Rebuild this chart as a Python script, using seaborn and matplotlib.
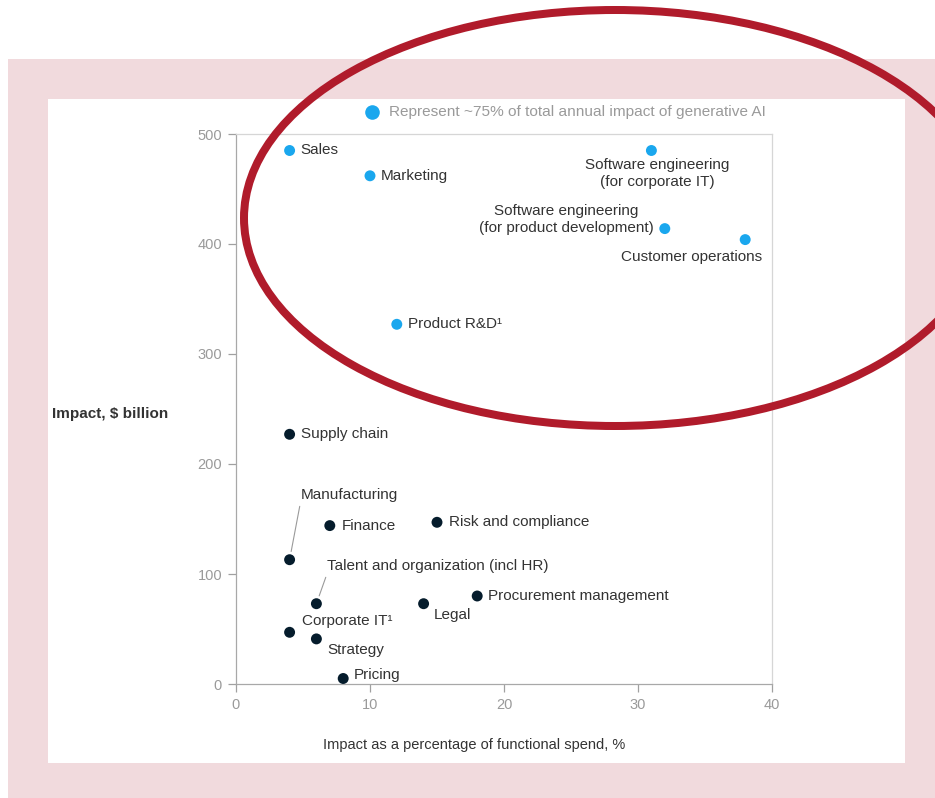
import matplotlib
matplotlib.use("Agg")
import matplotlib.pyplot as plt
import seaborn as sns
import pandas as pd
from matplotlib.patches import Rectangle, Ellipse
from matplotlib.lines import Line2D

# ---- data ----
functions = ["Sales", "Marketing", "Software engineering\n(for corporate IT)",
             "Software engineering\n(for product development)", "Customer operations",
             "Product R&D¹", "Supply chain", "Manufacturing", "Finance",
             "Risk and compliance", "Talent and organization (incl HR)", "Legal",
             "Procurement management", "Corporate IT¹", "Strategy", "Pricing"]
pct_spend = [4, 10, 31, 32, 38, 12, 4, 4, 7, 15, 6, 14, 18, 4, 6, 8]
impact_bn = [485, 462, 485, 414, 404, 327, 227, 113, 144, 147, 73, 73, 80, 47, 41, 5]
group = ["top"] * 6 + ["other"] * 10
x_ticks = [0, 10, 20, 30, 40]
y_ticks = [0, 100, 200, 300, 400, 500]
legend_text = "Represent ~75% of total annual impact of generative AI"

# label offsets in pixels (dx, dy up), alignment
label_style = {
    "Sales": (11, 0, "left", "center"),
    "Marketing": (11, 0, "left", "center"),
    "Software engineering\n(for corporate IT)": (6, -7, "center", "top"),
    "Software engineering\n(for product development)": (-11, 9, "right", "center"),
    "Customer operations": (17, -17, "right", "center"),
    "Product R&D¹": (11, 0, "left", "center"),
    "Supply chain": (11, 0, "left", "center"),
    "Manufacturing": (11, 65, "left", "center"),
    "Finance": (12, 0, "left", "center"),
    "Risk and compliance": (12, 0, "left", "center"),
    "Talent and organization (incl HR)": (11, 38, "left", "center"),
    "Legal": (10, -11, "left", "center"),
    "Procurement management": (11, 0, "left", "center"),
    "Corporate IT¹": (12, 11, "left", "center"),
    "Strategy": (11, -11, "left", "center"),
    "Pricing": (11, 4, "left", "center"),
}
leaders = {"Manufacturing", "Talent and organization (incl HR)"}

df = pd.DataFrame({"function": functions, "pct": pct_spend,
                   "impact": impact_bn, "group": group})

sns.set_theme(style="white")
plt.rcParams["font.family"] = ["Liberation Sans", "DejaVu Sans"]

W, H, DPI = 935, 798, 100
fig = plt.figure(figsize=(W / DPI, H / DPI), dpi=DPI)
fig.patch.set_facecolor("white")

def fx(px):
    return px / W

def fy(py):
    return 1 - py / H

PINK = "#F1DADD"
fig.add_artist(Rectangle((fx(8), fy(798)), fx(935) - fx(8), fy(59) - fy(798),
                         transform=fig.transFigure, facecolor=PINK, edgecolor="none", zorder=0))
fig.add_artist(Rectangle((fx(48), fy(763)), fx(905) - fx(48), fy(99) - fy(763),
                         transform=fig.transFigure, facecolor="white", edgecolor="none", zorder=0))

ax = fig.add_axes([fx(236), fy(684), fx(772) - fx(236), fy(134) - fy(684)])
ax.set_facecolor("none")

BLUE = "#1AA7EE"
NAVY = "#051C2C"
sns.scatterplot(data=df, x="pct", y="impact", hue="group",
                palette={"top": BLUE, "other": NAVY}, s=62, edgecolor="none",
                legend=False, ax=ax, zorder=3, clip_on=False)

ax.set_xlim(0, 40)
ax.set_ylim(0, 500)
ax.set_xticks(x_ticks)
ax.set_yticks(y_ticks)
ax.tick_params(axis="both", colors="#A0A0A0", labelcolor="#9A9A9A", labelsize=10.5,
               length=6, width=0.9, direction="out", bottom=True, left=True, pad=4)
for side in ["left", "bottom"]:
    ax.spines[side].set_color("#A8A8A8")
    ax.spines[side].set_linewidth(0.9)
for side in ["top", "right"]:
    ax.spines[side].set_color("#D6D6D6")
    ax.spines[side].set_linewidth(0.9)
ax.set_xlabel("")
ax.set_ylabel("")

PT = 72 / DPI
for _, r in df.iterrows():
    dx, dy, ha, va = label_style[r["function"]]
    kw = {}
    if r["function"] in leaders:
        kw["arrowprops"] = dict(arrowstyle="-", color="#9A9A9A", lw=0.8,
                                shrinkA=1, shrinkB=6, relpos=(0, 0))
    ax.annotate(r["function"], xy=(r["pct"], r["impact"]),
                xytext=(dx * PT, dy * PT), textcoords="offset points",
                ha=ha, va=va, fontsize=11, color="#333333",
                multialignment="center", linespacing=1.3, zorder=4, **kw)

# legend
fig.add_artist(Line2D([fx(372)], [fy(112)], marker="o", markersize=10.5,
                      color=BLUE, markeredgewidth=0, linestyle="none",
                      transform=fig.transFigure))
fig.text(fx(389), fy(112), legend_text, ha="left", va="center",
         fontsize=11.1, color="#9A9A9A")

# axis labels
fig.text(fx(52), fy(414), "Impact, \\$ billion", ha="left", va="center",
         fontsize=11, fontweight="bold", color="#333333")
fig.text(fx(474), fy(745), "Impact as a percentage of functional spend, %",
         ha="center", va="center", fontsize=10.5, color="#333333")

# red highlight ellipse
fig.add_artist(Ellipse((615 / DPI, (H - 218) / DPI), width=2 * 371 / DPI,
                       height=2 * 208 / DPI, transform=fig.dpi_scale_trans,
                       facecolor="none", edgecolor="#B01B2B", linewidth=8 * PT,
                       zorder=10))

fig.savefig("out.png", dpi=DPI)
